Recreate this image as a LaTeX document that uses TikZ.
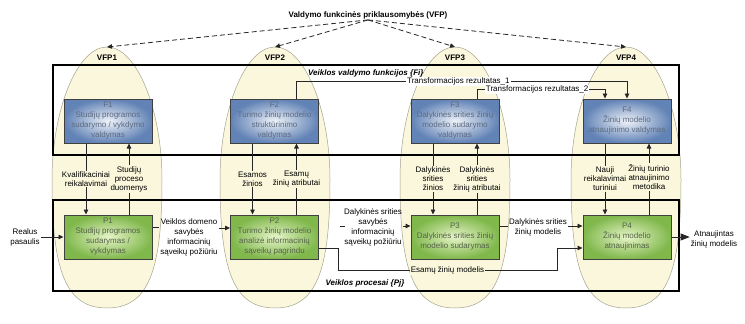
\documentclass[tikz,border=0pt]{standalone}
\usepackage{fontspec}
\setmainfont{Liberation Sans}
\usepackage{tikz}
\usetikzlibrary{arrows.meta}
\definecolor{eggfill}{HTML}{FAF7DC}
\definecolor{eggline}{HTML}{A4A290}
\definecolor{fouter}{HTML}{6283B6}
\definecolor{finner}{HTML}{EEF2F8}
\definecolor{ftext}{HTML}{5C6A80}
\definecolor{pouter}{HTML}{80B84C}
\definecolor{pinner}{HTML}{E6F4C8}
\definecolor{ptext}{HTML}{56624A}

\begin{document}
\begin{tikzpicture}[x=1pt, y=-1pt, >={Triangle[length=5pt,width=4.5pt]},
  every node/.style={font=\fontsize{8}{10}\selectfont, align=center, inner sep=1pt},
  egg/.style={fill=eggfill, draw=eggline, line width=0.5pt},
  frame/.style={draw, line width=1.1pt},
  fbox/.style={draw=black!75, line width=1pt, shading=radial, inner color=finner, outer color=fouter, text=ftext, minimum width=88pt, minimum height=44pt},
  pbox/.style={draw=black!75, line width=1pt, shading=radial, inner color=pinner, outer color=pouter, text=ptext, minimum width=88pt, minimum height=44pt},
  flow/.style={draw=black!85, line width=0.8pt},
  small/.style={font=\fontsize{8}{9}\selectfont, fill=eggfill},
  hint/.style={font=\fontsize{8}{10}\selectfont\bfseries\itshape},
  vfplbl/.style={font=\fontsize{8}{10}\selectfont\bfseries}]

  \useasboundingbox (0,0) rectangle (745,324);

  % Dependency areas
  \path[egg, shift={(107,0)}] (0,47) .. controls (30,47) and (55,110) .. (55,180) .. controls (55,272) and (41,308) .. (0,308) .. controls (-41,308) and (-55,272) .. (-55,180) .. controls (-55,110) and (-30,47) .. cycle;
  \path[egg, shift={(275,0)}] (0,47) .. controls (30,47) and (55,110) .. (55,180) .. controls (55,272) and (41,308) .. (0,308) .. controls (-41,308) and (-55,272) .. (-55,180) .. controls (-55,110) and (-30,47) .. cycle;
  \path[egg, shift={(455,0)}] (0,47) .. controls (30,47) and (55,110) .. (55,180) .. controls (55,272) and (41,308) .. (0,308) .. controls (-41,308) and (-55,272) .. (-55,180) .. controls (-55,110) and (-30,47) .. cycle;
  \path[egg, shift={(626,0)}] (0,47) .. controls (30,47) and (55,110) .. (55,180) .. controls (55,272) and (41,308) .. (0,308) .. controls (-41,308) and (-55,272) .. (-55,180) .. controls (-55,110) and (-30,47) .. cycle;
  \coordinate (top1) at (107,47);
  \coordinate (top2) at (275,47);
  \coordinate (top3) at (455,47);
  \coordinate (top4) at (626,47);
  \node[vfplbl] (vfp1) at (107,58) {VFP1};
  \node[vfplbl] (vfp2) at (275,58) {VFP2};
  \node[vfplbl] (vfp3) at (455,58) {VFP3};
  \node[vfplbl] (vfp4) at (626,58) {VFP4};

  % Title and dependencies
  \node[vfplbl] (vfp) at (368,15) {Valdymo funkcinės priklausomybės (VFP)};
  \draw[flow, dash pattern=on 5pt off 3pt, ->] (vfp.south) -- (top1);
  \draw[flow, dash pattern=on 5pt off 3pt, ->] (vfp.south) -- (top2);
  \draw[flow, dash pattern=on 5pt off 3pt, ->] (vfp.south) -- (top3);
  \draw[flow, dash pattern=on 5pt off 3pt, ->] (vfp.south) -- (top4);

  % Frames
  \draw[frame] (53,65) rectangle (679,155);
  \node[hint, anchor=west] (filbl) at (307,73) {Veiklos valdymo funkcijos \{Fi\}};
  \draw[frame] (53,200) rectangle (679,291);
  \node[hint] (pjlbl) at (365,283) {Veiklos procesai \{Pj\}};

  % Functions
  \node[fbox] (f1) at (108,121) {F1\\Studijų programos\\sudarymo / vykdymo\\valdymas};
  \node[fbox] (f2) at (274.5,121) {F2\\Turimo žinių modelio\\struktūrinimo\\valdymas};
  \node[fbox] (f3) at (455,121) {F3\\Dalykinės srities žinių\\modelio sudarymo\\valdymas};
  \node[fbox] (f4) at (627,121) {F4\\Žinių modelio\\atnaujinimo valdymas};

  % Processes
  \node[pbox] (p1) at (108,237) {P1\\Studijų programos\\sudarymas /\\vykdymas};
  \node[pbox] (p2) at (274.5,237) {P2\\Turimo žinių modelio\\analizė informacinių\\sąveikų pagrindu};
  \node[pbox] (p3) at (455,237) {P3\\Dalykinės srities žinių\\modelio sudarymas};
  \node[pbox] (p4) at (627,237) {P4\\Žinių modelio\\atnaujinimas};

  % Function <-> process
  \draw[flow,->] ([xshift=-22pt]f1.south) -- node[small] {Kvalifikaciniai\\reikalavimai} ([xshift=-22pt]p1.north);
  \draw[flow,->] ([xshift=21pt]p1.north) -- node[small] {Studijų\\proceso\\duomenys} ([xshift=21pt]f1.south);
  \draw[flow,->] ([xshift=-22pt]f2.south) -- node[small] {Esamos\\žinios} ([xshift=-22pt]p2.north);
  \draw[flow,->] ([xshift=22pt]p2.north) -- node[small] {Esamų\\žinių atributai} ([xshift=22pt]f2.south);
  \draw[flow,->] ([xshift=-22pt]f3.south) -- node[small] {Dalykinės\\srities\\žinios} ([xshift=-22pt]p3.north);
  \draw[flow,->] ([xshift=22pt]p3.north) -- node[small] {Dalykinės\\srities\\žinių atributai} ([xshift=22pt]f3.south);
  \draw[flow,->] ([xshift=-22pt]f4.south) -- node[small] {Nauji\\reikalavimai\\turiniui} ([xshift=-22pt]p4.north);
  \draw[flow,->] ([xshift=22pt]p4.north) -- node[small, yshift=2pt] {Žinių turinio\\atnaujinimo\\metodika} ([xshift=22pt]f4.south);

  % Transformation results
  \draw[flow,->] ([xshift=22pt]f2.north) -- ++(0,-17) -| node[pos=0.245, fill=white] {Transformacijos rezultatas\_1} (f4.north);
  \draw[flow,->] ([xshift=22pt]f3.north) -- ++(0,-9) -| node[pos=0.235, fill=white] {Transformacijos rezultatas\_2} ([xshift=-22pt]f4.north);

  % Process chain
  \node (real) at (25,237) {Realus\\pasaulis};
  \draw[flow,->] (real) -- (p1);
  \node (dom) at (189,237) {Veiklos domeno\\savybės\\informacinių\\sąveikų požiūriu};
  \draw[flow] ([yshift=10pt]p1.east) -- ([yshift=10pt]p1.east -| dom.west);
  \draw[flow,->] ([yshift=9pt]p2.west -| dom.east) -- ([yshift=9pt]p2.west);
  \node (sav) at (373,227) {Dalykinės srities\\savybės\\informacinių\\sąveikų požiūriu};
  \draw[flow] (340,226) -- (345,226);
  \draw[flow,->] ([yshift=11pt]p3.west -| sav.east) -- ([yshift=11pt]p3.west);
  \node (dzm) at (538,227) {Dalykinės srities\\žinių modelis};
  \draw[flow] ([yshift=11pt]p3.east) -- ([yshift=11pt]p3.east -| dzm.west);
  \draw[flow,->] ([yshift=11pt]p4.west -| dzm.east) -- ([yshift=11pt]p4.west);
  \draw[flow,->] ([yshift=-11pt]p2.east) -| (338,270) -- node[fill=eggfill] {Esamų žinių modelis} (557,270) |- ([yshift=-11pt]p4.west);
  \node (out) at (714,239) {Atnaujintas\\žinių modelis};
  \draw[flow,-{Triangle[length=9pt,width=7pt]}] (p4.east) -- (p4.east -| out.west);
\end{tikzpicture}
\end{document}
